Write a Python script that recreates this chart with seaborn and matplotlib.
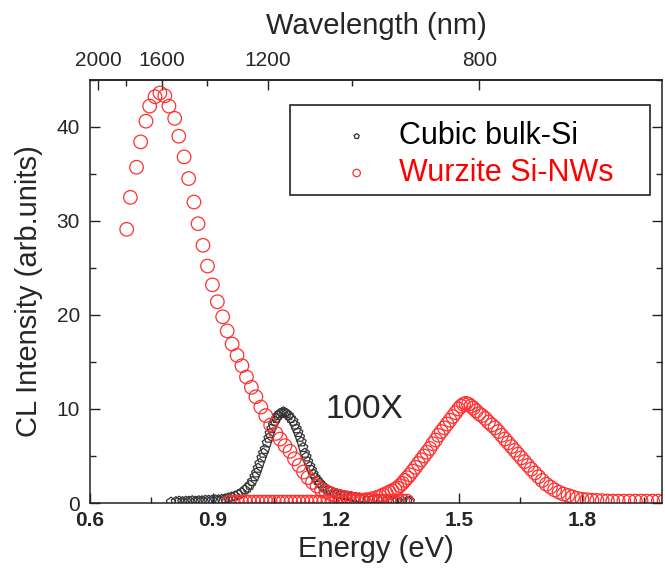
import numpy as np
import pandas as pd
import matplotlib
matplotlib.use("Agg")
import matplotlib.pyplot as plt
import seaborn as sns
from matplotlib.ticker import MultipleLocator, FixedLocator
from matplotlib.patches import Rectangle

# ---- values ----
# Wurzite Si-NWs, long-wavelength (IR) scan
nw_ir_energy = [0.690, 0.699, 0.714, 0.724, 0.737, 0.746, 0.759, 0.771, 0.783, 0.793,
                0.807, 0.817, 0.830, 0.841, 0.854, 0.864, 0.876, 0.887, 0.899, 0.911,
                0.924, 0.935, 0.947, 0.959, 0.971, 0.982, 0.994, 1.005, 1.017, 1.029,
                1.041, 1.054, 1.064, 1.076, 1.088, 1.099, 1.110, 1.121, 1.132, 1.143,
                1.154, 1.165, 1.176, 1.187, 1.198, 1.209, 1.220, 1.231, 1.242, 1.253,
                1.264, 1.275, 1.286, 1.297, 1.308, 1.319, 1.330, 1.341, 1.352, 1.363, 1.373]
nw_ir_intensity = [29.1, 32.5, 35.7, 38.4, 40.6, 42.2, 43.2, 43.6, 43.3, 42.2,
                   40.9, 39.0, 36.8, 34.5, 32.0, 29.7, 27.4, 25.2, 23.2, 21.4,
                   19.8, 18.3, 16.9, 15.7, 14.6, 13.4, 12.3, 11.3, 10.2, 9.3,
                   8.3, 7.4, 6.8, 6.1, 5.5, 4.7, 4.0, 3.3, 2.7, 2.2,
                   1.8, 1.4, 1.2, 1.0, 0.8, 0.7, 0.6, 0.5, 0.4, 0.35,
                   0.3, 0.3, 0.25, 0.25, 0.2, 0.2, 0.2, 0.2, 0.2, 0.2, 0.2]

# Wurzite Si-NWs, visible scan
nw_vis_energy = [0.940, 0.950, 0.960, 0.970, 0.980, 0.990, 1.000, 1.010, 1.020, 1.030,
                 1.040, 1.050, 1.060, 1.070, 1.080, 1.090, 1.100, 1.110, 1.120, 1.130,
                 1.140, 1.150, 1.160, 1.170, 1.180, 1.190, 1.200, 1.210, 1.220, 1.230,
                 1.240, 1.250, 1.262, 1.275, 1.288, 1.300, 1.308, 1.315, 1.323, 1.330,
                 1.337, 1.344, 1.350, 1.356, 1.362, 1.368, 1.374, 1.380, 1.387, 1.394,
                 1.401, 1.408, 1.415, 1.422, 1.429, 1.436, 1.443, 1.450, 1.457, 1.464,
                 1.471, 1.478, 1.485, 1.492, 1.499, 1.505, 1.511, 1.517, 1.523, 1.529,
                 1.535, 1.542, 1.549, 1.556, 1.564, 1.572, 1.580, 1.588, 1.596, 1.604,
                 1.612, 1.620, 1.628, 1.636, 1.644, 1.652, 1.660, 1.668, 1.676, 1.685,
                 1.694, 1.703, 1.713, 1.723, 1.733, 1.744, 1.755, 1.766, 1.777, 1.788,
                 1.800, 1.812, 1.824, 1.836, 1.849, 1.862, 1.875, 1.888, 1.902, 1.916,
                 1.930, 1.944, 1.958, 1.972, 1.986, 2.000]
nw_vis_intensity = [0.1, 0.1, 0.1, 0.1, 0.1, 0.1, 0.1, 0.1, 0.1, 0.1,
                    0.1, 0.1, 0.1, 0.1, 0.1, 0.1, 0.1, 0.1, 0.1, 0.1,
                    0.1, 0.1, 0.1, 0.1, 0.1, 0.1, 0.1, 0.1, 0.1, 0.1,
                    0.15, 0.2, 0.25, 0.35, 0.45, 0.6, 0.7, 0.85, 1.0, 1.15,
                    1.3, 1.45, 1.6, 1.85, 2.1, 2.4, 2.7, 3.0, 3.4, 3.8,
                    4.2, 4.6, 5.0, 5.4, 5.8, 6.3, 6.7, 7.2, 7.6, 8.0,
                    8.4, 8.8, 9.2, 9.6, 10.0, 10.3, 10.5, 10.6, 10.5, 10.3,
                    10.1, 9.8, 9.5, 9.3, 9.0, 8.6, 8.3, 8.0, 7.6, 7.2,
                    6.8, 6.4, 6.0, 5.6, 5.2, 4.8, 4.4, 4.0, 3.6, 3.2,
                    2.8, 2.4, 2.0, 1.7, 1.4, 1.15, 0.95, 0.8, 0.65, 0.5,
                    0.4, 0.35, 0.3, 0.28, 0.25, 0.22, 0.2, 0.2, 0.2, 0.2,
                    0.2, 0.2, 0.2, 0.2, 0.2, 0.2]

# Cubic bulk-Si (scaled 100X)
bulk_energy = [0.798, 0.810, 0.818, 0.826, 0.834, 0.842, 0.850, 0.858, 0.866, 0.874,
               0.882, 0.890, 0.898, 0.906, 0.914, 0.922, 0.930, 0.938, 0.946, 0.954,
               0.962, 0.970, 0.978, 0.984, 0.990, 0.996, 1.002, 1.006, 1.010, 1.014,
               1.019, 1.023, 1.027, 1.032, 1.036, 1.039, 1.043, 1.047, 1.051, 1.055,
               1.059, 1.063, 1.068, 1.072, 1.076, 1.080, 1.085, 1.090, 1.096, 1.100,
               1.104, 1.108, 1.112, 1.116, 1.120, 1.124, 1.128, 1.132, 1.137, 1.141,
               1.145, 1.150, 1.155, 1.161, 1.167, 1.173, 1.180, 1.187, 1.195, 1.203,
               1.211, 1.220, 1.229, 1.238, 1.248, 1.258, 1.268, 1.279, 1.290, 1.302,
               1.314, 1.326, 1.338, 1.350, 1.362, 1.374, 1.380]
bulk_intensity = [0.1, 0.15, 0.2, 0.15, 0.2, 0.2, 0.25, 0.2, 0.25, 0.25,
                  0.3, 0.3, 0.3, 0.35, 0.35, 0.4, 0.45, 0.55, 0.65, 0.75,
                  0.9, 1.1, 1.4, 1.6, 1.9, 2.3, 2.8, 3.2, 3.7, 4.2,
                  4.8, 5.3, 5.7, 6.4, 6.9, 7.4, 7.9, 8.3, 8.7, 9.0,
                  9.3, 9.5, 9.6, 9.7, 9.6, 9.5, 9.3, 9.0, 8.7, 8.3,
                  7.9, 7.5, 7.0, 6.5, 5.9, 5.3, 4.9, 4.4, 3.9, 3.5,
                  3.1, 2.7, 2.4, 2.1, 1.8, 1.6, 1.4, 1.25, 1.1, 1.0,
                  0.9, 0.8, 0.75, 0.7, 0.6, 0.55, 0.5, 0.45, 0.4, 0.35,
                  0.3, 0.3, 0.25, 0.25, 0.2, 0.2, 0.2]

wl_major = [2000, 1600, 1200, 800]
wl_minor = [1800, 1400, 1000]

sns.set_style("ticks")
plt.rcParams["font.family"] = ["Liberation Sans", "DejaVu Sans"]
plt.rcParams["axes.edgecolor"] = "#222222"
plt.rcParams["axes.linewidth"] = 1.1

fig = plt.figure(figsize=(6.65, 5.7), dpi=100)
ax = fig.add_axes([0.135, 0.1175, 0.8605, 0.7425])

# bulk Si first, nanowires on top
sns.scatterplot(x=bulk_energy, y=bulk_intensity, marker="p", s=50,
                facecolor="none", edgecolor="#333333", linewidth=0.9,
                ax=ax, label="Cubic bulk-Si")
sns.scatterplot(x=nw_ir_energy + nw_vis_energy, y=nw_ir_intensity + nw_vis_intensity,
                marker="o", s=95, facecolor="none", edgecolor="#ff3030", linewidth=0.9,
                ax=ax, label="Wurzite Si-NWs")

ax.set_xlim(0.6, 1.995)
ax.set_ylim(0, 45)
ax.xaxis.set_major_locator(MultipleLocator(0.3))
ax.xaxis.set_minor_locator(MultipleLocator(0.15))
ax.yaxis.set_major_locator(MultipleLocator(10))
ax.yaxis.set_minor_locator(MultipleLocator(5))
ax.xaxis.set_major_formatter(matplotlib.ticker.FormatStrFormatter("%.1f"))
ax.tick_params(axis="both", which="both", direction="in", top=False, right=True,
               color="#222222", width=1.0)
ax.tick_params(which="major", length=7)
ax.tick_params(which="minor", length=4)
ax.tick_params(axis="x", labelsize=15, pad=6)
ax.tick_params(axis="y", labelsize=15, pad=7)
for lbl in ax.get_xticklabels():
    lbl.set_fontweight("bold")

ax.set_xlabel("Energy (eV)", fontsize=21, labelpad=3)
ax.set_ylabel("CL Intensity (arb.units)", fontsize=21, labelpad=10)

# top axis in wavelength
def e2wl(x):
    x = np.asarray(x, dtype=float)
    with np.errstate(divide="ignore"):
        return 1240.0 / x

top = ax.secondary_xaxis("top", functions=(e2wl, e2wl))
top.xaxis.set_major_locator(FixedLocator(wl_major))
top.xaxis.set_minor_locator(FixedLocator(wl_minor))
top.tick_params(which="both", direction="in", color="#222222", width=1.0)
top.tick_params(which="major", length=7, labelsize=15, pad=7)
top.tick_params(which="minor", length=4)
top.set_xlabel("Wavelength (nm)", fontsize=21, labelpad=12)

ax.text(1.27, 9.9, "100X", fontsize=24, ha="center", va="center")

# legend with a hand drawn frame
ax.add_patch(Rectangle((0.35, 0.728), 0.629, 0.213, transform=ax.transAxes,
                       fill=False, edgecolor="#222222", linewidth=1.2, zorder=5))
leg = ax.legend(loc="upper left", bbox_to_anchor=(0.413, 0.902), frameon=False,
                fontsize=22, borderpad=0, labelspacing=0.22, handlelength=2.0,
                handletextpad=0.4, markerscale=0.55, borderaxespad=0)
for txt, col in zip(leg.get_texts(), ["black", "red"]):
    txt.set_color(col)

fig.savefig("out.png", dpi=100)
